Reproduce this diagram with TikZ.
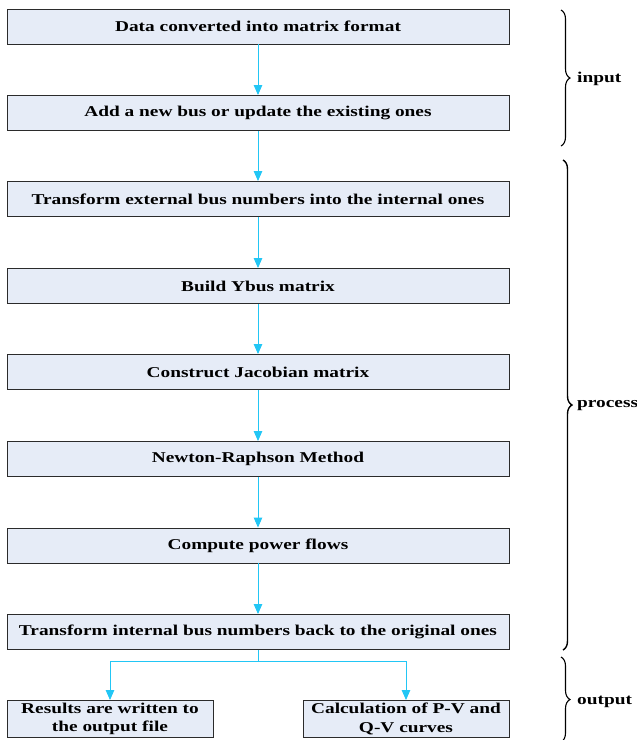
\documentclass[tikz,border=0pt]{standalone}
\usepackage{graphicx}
\usepackage{fontspec}
\setmainfont{Liberation Serif}
\usetikzlibrary{arrows.meta,decorations.pathreplacing}
\definecolor{boxfill}{HTML}{E6ECF7}
\definecolor{boxline}{HTML}{2B2B2B}
\definecolor{flow}{HTML}{22C6F5}
% wide bold lettering
\newcommand\widetxt[1]{\scalebox{1.29}[1]{#1}}
\begin{document}
\begin{tikzpicture}[x=1pt,y=-1pt,
  stepbox/.style={draw=boxline,fill=boxfill,line width=0.9pt,minimum width=502pt,
    minimum height=35pt,inner sep=0pt,font=\fontsize{15}{16}\selectfont\bfseries},
  outbox/.style={draw=boxline,fill=boxfill,line width=0.9pt,minimum width=206pt,
    minimum height=37pt,inner sep=0pt,align=center,
    font=\fontsize{15}{18.5}\selectfont\bfseries},
  flowarrow/.style={draw=flow,line width=0.9pt,-{Triangle[width=8.5pt,length=10pt]}},
  flowline/.style={draw=flow,line width=0.9pt},
  bracket/.style={decorate,decoration={brace,amplitude=9pt,raise=0pt},line width=1.1pt},
  bracelabel/.style={anchor=west,inner sep=0pt,font=\fontsize{15}{16}\selectfont\bfseries}]
\useasboundingbox (0,0) rectangle (637,740);

% main chain of steps
\node[stepbox] (s1) at (258,26.5) {\widetxt{Data converted into matrix format}};
\node[stepbox] (s2) at (258,113) {\widetxt{Add a new bus or update the existing ones}};
\node[stepbox] (s3) at (258,199) {\widetxt{Transform external bus numbers into the internal ones}};
\node[stepbox] (s4) at (258,286) {\widetxt{Build Ybus matrix}};
\node[stepbox] (s5) at (258,372) {\widetxt{Construct Jacobian matrix}};
\node[stepbox] (s6) at (258,459) {\widetxt{Newton-Raphson Method}};
\node[stepbox] (s7) at (258,545.5) {\widetxt{Compute power flows}};
\node[stepbox] (s8) at (258,632) {\widetxt{Transform internal bus numbers back to the original ones}};

% output steps
\node[outbox] (o1) at (110,719) {\widetxt{Results are written to}\\\widetxt{the output file}};
\node[outbox] (o2) at (406,719) {\widetxt{Calculation of P-V and}\\\widetxt{Q-V curves}};

% connectors
\foreach \a/\b in {s1/s2,s2/s3,s3/s4,s4/s5,s5/s6,s6/s7,s7/s8}
  \draw[flowarrow] (\a.south) -- (\b.north);
\coordinate (split) at (258,661);
\draw[flowline] (s8.south) -- (split);
\draw[flowarrow] (split) -| (o1.north);
\draw[flowarrow] (split) -| (o2.north);

% stage braces
\coordinate (inA) at (561,10);
\coordinate (inB) at (561,146);
\coordinate (prA) at (563,160);
\coordinate (prB) at (563,650);
\coordinate (ouA) at (561,657);
\coordinate (ouB) at (561,742);
\draw[bracket] (inA) -- (inB);
\draw[bracket,line width=1.4pt] (prA) -- (prB);
\draw[bracket] (ouA) -- (ouB);
\node[bracelabel] (lin) at (577,78.5) {\widetxt{input}};
\node[bracelabel] (lpr) at (577,405.5) {\widetxt{process}};
\node[bracelabel] (lou) at (577,701.5) {\widetxt{output}};
\end{tikzpicture}
\end{document}
